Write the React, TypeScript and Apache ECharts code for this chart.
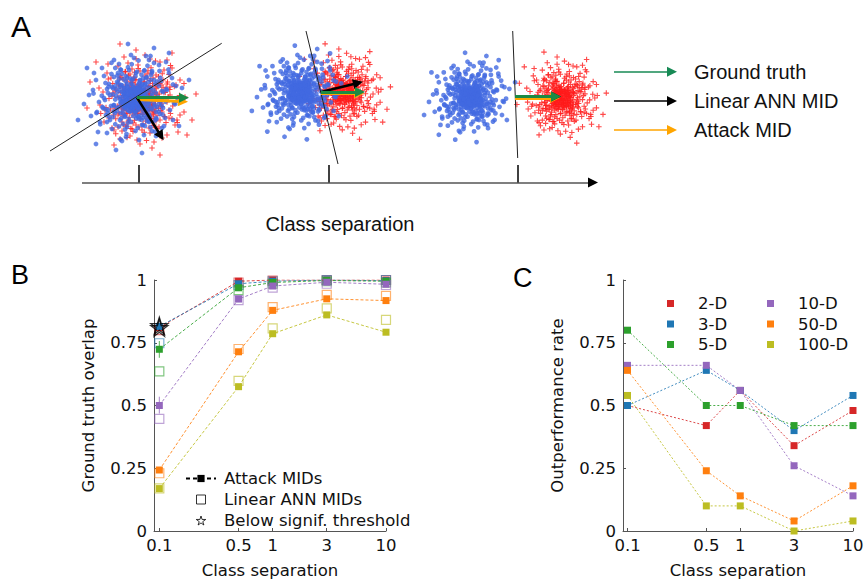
import React, { useEffect, useRef } from 'react';
import * as echarts from 'echarts';

// ---------- Panels B & C data ----------
const separations = [0.1, 0.5, 1, 3, 10];
const sepLabels = ['0.1', '0.5', '1', '3', '10'];
const dims = ['2-D', '3-D', '5-D', '10-D', '50-D', '100-D'];
const dimColors = ['#d62728', '#1f77b4', '#2ca02c', '#9467bd', '#ff7f0e', '#bcbd22'];

// Ground truth overlap, attack MIDs
const attack2D = [0.81, 0.995, 1.0, 1.0, 1.0];
const attack3D = [0.815, 0.985, 0.995, 1.0, 0.997];
const attack5D = [0.724, 0.969, 0.99, 0.998, 0.995];
const attack10D = [0.5, 0.924, 0.976, 0.991, 0.983];
const attack50D = [0.243, 0.714, 0.879, 0.925, 0.918];
const attack100D = [0.169, 0.575, 0.786, 0.861, 0.792];

// Ground truth overlap, linear ANN MIDs
const linear2D = [0.8, 0.99, 0.998, 1.0, 1.0];
const linear3D = [0.748, 0.98, 0.995, 1.0, 1.0];
const linear5D = [0.636, 0.96, 0.985, 0.995, 0.99];
const linear10D = [0.447, 0.92, 0.97, 0.985, 0.98];
const linear50D = [0.23, 0.725, 0.892, 0.941, 0.937];
const linear100D = [0.17, 0.598, 0.807, 0.887, 0.841];

// Below significance threshold (separation, overlap)
const starPoints = [[0.1, 0.81], [0.1, 0.818]];
// Error bars at separation 0.1: [sep, low, high, dimIndex]
const errorBars = [[0.1, 0.69, 0.757, 2], [0.1, 0.468, 0.535, 3]];

// Outperformance rate
const outperf2D = [0.5, 0.42, 0.56, 0.34, 0.48];
const outperf3D = [0.5, 0.64, 0.56, 0.4, 0.54];
const outperf5D = [0.8, 0.5, 0.5, 0.42, 0.42];
const outperf10D = [0.66, 0.66, 0.56, 0.26, 0.14];
const outperf50D = [0.64, 0.24, 0.14, 0.04, 0.18];
const outperf100D = [0.54, 0.1, 0.1, 0.0, 0.04];

const attackAll = [attack2D, attack3D, attack5D, attack10D, attack50D, attack100D];
const linearAll = [linear2D, linear3D, linear5D, linear10D, linear50D, linear100D];
const outperfAll = [outperf2D, outperf3D, outperf5D, outperf10D, outperf50D, outperf100D];

// ---------- Panel A data (illustration units) ----------
const cloudOffsets = [
  [3, -2], [-5, 4], [8, 1], [-2, -9], [11, -6], [-12, 3], [6, 10], [-7, -12], [1, 14], [13, 7],
  [-10, -3], [4, -13], [-14, -8], [9, -10], [-3, 8], [0, 0], [7, -4], [-9, 9], [12, 12], [-6, -1],
  [2, 6], [-11, 12], [14, -1], [5, -7], [-4, -5], [10, 4], [-13, -13], [-1, 11], [8, -14], [-8, 6],
  [3, 3], [-2, -3], [6, -11], [-5, 13], [11, 10], [-14, 1], [1, -6], [-7, 2], [13, -11], [4, 9],
  [-10, -10], [9, 13], [-3, -14], [12, -3], [-6, 7], [2, -1], [-12, -6], [7, 5], [-9, -7], [5, 1],
  [-1, -11], [10, -8], [-4, 10], [0, 7], [14, 5], [-8, -4], [6, -2], [-11, 8], [3, -10], [-5, -8],
  [8, 8], [-13, 5], [1, 3], [12, 1], [-2, 13], [9, -2], [-7, -14], [4, 12], [-10, 1], [11, -13],
  [18, -5], [-20, 7], [22, 14], [-17, -16], [5, 21], [-8, -22], [25, -12], [-24, -3], [16, 19], [-19, 15],
  [2, -25], [27, 3], [-26, 12], [12, -20], [-14, 22], [20, -18], [-22, -11], [8, 27], [-5, -28], [28, -7],
  [-29, 2], [15, 24], [-16, -25], [23, 9], [-21, 19], [17, -23], [-11, 26], [26, 16], [-27, -9], [10, -27],
  [-3, 24], [19, 2], [-18, -2], [21, -14], [-23, 8], [14, 17], [-15, -19], [6, -18], [-9, 18], [24, -1],
  [-25, -14], [13, 23], [-12, -24], [29, 10], [-28, 17], [18, -27], [-7, 29], [22, 20], [-20, -21], [3, 18],
  [-1, -19], [16, -9], [-17, 10], [27, -17], [-24, 22], [11, 28], [-13, -28], [25, 6], [-26, -5], [9, 20],
  [33, -8], [-35, 4], [31, 20], [-30, -22], [10, 37], [-15, -34], [38, -20], [-37, 14], [20, -35], [-22, 31],
  [0, -40], [40, 5], [-41, -8], [28, 30], [-32, -30], [36, 12], [-34, 24], [15, -38], [-8, 39], [42, -12],
  [-43, 18], [25, -33], [-27, 35], [35, -25], [-38, -18], [5, 42], [-3, -43], [30, 28], [-31, 10], [18, 33],
  [-20, -38], [44, 2], [-45, -3], [32, -36], [-36, 34], [12, -42], [-12, 43], [39, 22], [-40, -25], [22, 38],
  [48, -10], [-50, 6], [20, -50], [-18, 52], [45, 28], [-47, -30], [8, 55], [-6, -54], [55, -18], [-56, 22],
  [35, -45], [-38, 46],
];
const blueCenters = [[134, 98], [300, 92], [470, 97]];
const redCenters = [[142, 100], [344, 92], [562, 98]];
const cloudScale = [1.0, 0.86, 0.82];

const decisionLines = [
  [[50, 151], [221.7, 43.3]],
  [[306, 31], [338, 164]],
  [[512.7, 31], [517.7, 158]],
];
const groundTruthArrows = [
  [[137, 97.7], [184, 97.7]],
  [[321, 92], [360, 92]],
  [[515, 96.5], [556, 96.5]],
];
const attackArrows = [
  [[137, 99.5], [183, 101.5]],
  [[321, 93.5], [359, 93.5]],
  [[515, 98], [555, 98]],
];
const linearArrows = [
  [[137, 97.7], [161, 136]],
  [[321, 92], [358, 83]],
  [[515, 96.5], [556, 96.5]],
];
const sepAxisLine = [[82, 182.5], [590, 182.5]];
const sepAxisHead = [[588, 182.5], [593, 182.5]];
const sepAxisTicks = [
  [[139, 165], [139, 182.5]],
  [[328.7, 165], [328.7, 182.5]],
  [[517.7, 165], [517.7, 182.5]],
];
const legendArrowY = [71.7, 101, 130];
const legendArrowX = [614, 672];
const legendLabelsA = ['Ground truth', 'Linear ANN MID', 'Attack MID'];

const GREEN = '#1c8a44';
const ORANGE = '#ffa500';
const PLUS = 'path://M2,0h1v2h2v1h-2v2h-1v-2h-2v-1h2z';
const STAR = 'path://M50,0L61,35L98,35L68,57L79,91L50,70L21,91L32,57L2,35L39,35Z';
const SQUARE = 'path://M0,0H10V10H0Z';
const FONT_B = 'DejaVu Sans';
const FONT_A = 'Liberation Sans';

const sepLog = separations.map((s) => Math.log10(s));
const sepFormatter = (v: number) => {
  let best = 0;
  sepLog.forEach((l, i) => {
    if (Math.abs(l - v) < Math.abs(sepLog[best] - v)) best = i;
  });
  return sepLabels[best];
};

function buildOption() {
  const bluePts: number[][] = [];
  const redPts: number[][] = [];
  blueCenters.forEach((c, i) => {
    const k = cloudScale[i];
    cloudOffsets.forEach(([dx, dy]) => bluePts.push([c[0] + dx * k, c[1] + dy * k]));
    cloudOffsets.forEach(([dx, dy]) => bluePts.push([c[0] + dy * k * 0.75, c[1] + dx * k * 0.75]));
  });
  redCenters.forEach((c, i) => {
    const k = cloudScale[i];
    cloudOffsets.forEach(([dx, dy]) => redPts.push([c[0] - dy * k, c[1] + dx * k]));
    cloudOffsets.forEach(([dx, dy]) => redPts.push([c[0] - dx * k * 0.75, c[1] - dy * k * 0.75]));
  });

  const aLines = (data: number[][][], color: string, width: number, arrow: boolean, size = 9) => ({
    type: 'lines',
    coordinateSystem: 'cartesian2d',
    xAxisIndex: 0,
    yAxisIndex: 0,
    silent: true,
    symbol: arrow ? ['none', 'triangle'] : 'none',
    symbolSize: size,
    lineStyle: { color, width, opacity: 1, curveness: 0 },
    data: data.map((c) => ({ coords: c })),
    z: 5,
  });

  const axisCommon = (grid: number) => ({
    gridIndex: grid,
    type: 'value',
    axisLine: { show: true, onZero: false, lineStyle: { color: '#555', width: 1 } },
    axisTick: { show: true, inside: true, length: 3, lineStyle: { color: '#555' } },
    splitLine: { show: false },
    axisLabel: { fontFamily: FONT_B, fontSize: 16.5, color: '#111' },
    nameTextStyle: { fontFamily: FONT_B, fontSize: 16.5, color: '#111' },
  });

  const xAxisSep = (grid: number, min: number) => {
    const base: any = axisCommon(grid);
    return {
      ...base,
      min,
      max: 1,
      axisTick: { ...base.axisTick, customValues: sepLog },
      axisLabel: { ...base.axisLabel, customValues: sepLog, formatter: sepFormatter, margin: 6 },
      name: 'Class separation',
      nameLocation: 'middle',
      nameGap: 31,
    };
  };
  const yAxisRate = (grid: number, name: string) => {
    const base: any = axisCommon(grid);
    return {
      ...base,
      min: 0,
      max: 1,
      interval: 0.25,
      axisLabel: { ...base.axisLabel, margin: 7 },
      name,
      nameLocation: 'middle',
      nameGap: 57,
    };
  };

  const series: any[] = [
    {
      type: 'scatter', xAxisIndex: 0, yAxisIndex: 0, silent: true,
      symbol: PLUS, symbolSize: 5.5, itemStyle: { color: '#ff1a1a' }, data: redPts, z: 2,
    },
    {
      type: 'scatter', xAxisIndex: 0, yAxisIndex: 0, silent: true,
      symbol: 'circle', symbolSize: 4.8, itemStyle: { color: '#4169e1' }, data: bluePts, z: 3,
    },
    aLines(decisionLines, '#222', 1, false),
    aLines(attackArrows, ORANGE, 3, true, 10),
    aLines(linearArrows, '#000', 2.5, true, 10),
    aLines(groundTruthArrows, GREEN, 3, true, 10),
    aLines([sepAxisLine], '#555', 1.5, false),
    aLines([sepAxisHead], '#000', 1, true, 10),
    aLines(sepAxisTicks, '#000', 1.5, false),
    aLines([[[legendArrowX[0], legendArrowY[0]], [legendArrowX[1], legendArrowY[0]]]], '#178a55', 1.5, true, 10),
    aLines([[[legendArrowX[0], legendArrowY[1]], [legendArrowX[1], legendArrowY[1]]]], '#000', 1.5, true, 10),
    aLines([[[legendArrowX[0], legendArrowY[2]], [legendArrowX[1], legendArrowY[2]]]], ORANGE, 1.5, true, 10),
  ];

  // Panel B
  series.push({
    name: 'Below signif. threshold', type: 'scatter', xAxisIndex: 1, yAxisIndex: 1,
    symbol: STAR, symbolSize: 17,
    itemStyle: { color: 'rgba(255,255,255,0)', borderColor: '#000', borderWidth: 1.3 },
    data: starPoints.map(([s, v]) => [Math.log10(s), v]), z: 4,
  });
  dims.forEach((d, i) => {
    series.push({
      name: 'lin-' + d, type: 'scatter', xAxisIndex: 1, yAxisIndex: 1,
      symbol: 'rect', symbolSize: 9,
      itemStyle: { color: 'rgba(255,255,255,0)', borderColor: dimColors[i], borderWidth: 1.2, opacity: 0.6 },
      data: separations.map((s, j) => [Math.log10(s), linearAll[i][j]]), z: 2,
    });
  });
  series.push({
    type: 'custom', xAxisIndex: 1, yAxisIndex: 1, silent: true, z: 2,
    data: errorBars.map(([s, lo, hi, k]) => [Math.log10(s), lo, hi, k]),
    renderItem: (params: any, api: any) => {
      const a = api.coord([api.value(0), api.value(1)]);
      const b = api.coord([api.value(0), api.value(2)]);
      return {
        type: 'line',
        shape: { x1: a[0], y1: a[1], x2: b[0], y2: b[1] },
        style: { stroke: dimColors[api.value(3)], lineWidth: 1, opacity: 0.8 },
      };
    },
  });
  dims.forEach((d, i) => {
    series.push({
      name: 'att-' + d, type: 'line', xAxisIndex: 1, yAxisIndex: 1,
      symbol: 'rect', symbolSize: 7,
      lineStyle: { color: dimColors[i], width: 1, type: [3, 2], opacity: 0.85 },
      itemStyle: { color: dimColors[i] },
      data: separations.map((s, j) => [Math.log10(s), attackAll[i][j]]), z: 3,
    });
  });
  series.push({
    name: 'Attack MIDs', type: 'line', xAxisIndex: 1, yAxisIndex: 1, data: [],
    symbol: 'rect', symbolSize: 7, lineStyle: { color: '#000', width: 1, type: [4, 3] }, itemStyle: { color: '#000' },
  });
  series.push({
    name: 'Linear ANN MIDs', type: 'scatter', xAxisIndex: 1, yAxisIndex: 1, data: [],
    symbol: SQUARE, symbolSize: 9, itemStyle: { color: '#fff', borderColor: '#000', borderWidth: 1 },
  });

  // Panel C
  dims.forEach((d, i) => {
    series.push({
      name: d, type: 'line', xAxisIndex: 2, yAxisIndex: 2,
      symbol: 'rect', symbolSize: 7,
      lineStyle: { color: dimColors[i], width: 1, type: [2, 2], opacity: 0.85 },
      itemStyle: { color: dimColors[i] },
      data: separations.map((s, j) => [Math.log10(s), outperfAll[i][j]]), z: 3,
    });
  });

  const legendText = { fontFamily: FONT_B, fontSize: 16.5, color: '#111' };

  return {
    animation: false,
    backgroundColor: '#fff',
    grid: [
      { left: 0, top: 0, width: 865, height: 200, outerBoundsMode: 'none' },
      { left: 154, top: 280, width: 232, height: 251, outerBoundsMode: 'none' },
      { left: 623, top: 280, width: 230, height: 251, outerBoundsMode: 'none' },
    ],
    xAxis: [
      { gridIndex: 0, type: 'value', min: 0, max: 865, show: false },
      xAxisSep(1, -1.047),
      xAxisSep(2, -1.04),
    ],
    yAxis: [
      { gridIndex: 0, type: 'value', min: 0, max: 200, inverse: true, show: false },
      yAxisRate(1, 'Ground truth overlap'),
      yAxisRate(2, 'Outperformance rate'),
    ],
    legend: [
      {
        data: [
          { name: 'Attack MIDs' },
          { name: 'Linear ANN MIDs', icon: SQUARE, itemStyle: { color: '#fff', borderColor: '#000', borderWidth: 1 } },
          { name: 'Below signif. threshold', icon: STAR, itemStyle: { color: '#fff', borderColor: '#000', borderWidth: 1 } },
        ],
        symbolKeepAspect: true,
        orient: 'vertical', left: 180, top: 465, itemWidth: 30, itemHeight: 9, itemGap: 4,
        selectedMode: false, textStyle: { ...legendText, padding: [0, 0, 0, 3] },
      },
      {
        data: ['2-D', '3-D', '5-D'], icon: 'rect',
        orient: 'vertical', left: 662, top: 290, itemWidth: 7, itemHeight: 7, itemGap: 3.5,
        selectedMode: false, textStyle: { ...legendText, padding: [0, 0, 0, 19] },
      },
      {
        data: ['10-D', '50-D', '100-D'], icon: 'rect',
        orient: 'vertical', left: 762, top: 290, itemWidth: 7, itemHeight: 7, itemGap: 3.5,
        selectedMode: false, textStyle: { ...legendText, padding: [0, 0, 0, 19] },
      },
    ],
    graphic: [
      { type: 'text', left: 11, top: 11, style: { text: 'A', fontFamily: FONT_A, fontSize: 30, fill: '#000' } },
      { type: 'text', left: 11, top: 261, style: { text: 'B', fontFamily: FONT_A, fontSize: 27, fill: '#000' } },
      { type: 'text', left: 513, top: 264, style: { text: 'C', fontFamily: FONT_A, fontSize: 27, fill: '#000' } },
      {
        type: 'text', x: 340, y: 224,
        style: { text: 'Class separation', fontFamily: FONT_A, fontSize: 20, fill: '#111', align: 'center', verticalAlign: 'middle' },
      },
      ...legendLabelsA.map((t, i) => ({
        type: 'text', x: 694, y: legendArrowY[i],
        style: { text: t, fontFamily: FONT_A, fontSize: 20, fill: '#111', align: 'left', verticalAlign: 'middle' },
      })),
    ],
    series,
  };
}

export default function App() {
  const ref = useRef<HTMLDivElement>(null);
  useEffect(() => {
    const chart = echarts.init(ref.current!, undefined, { renderer: 'svg' });
    chart.setOption(buildOption() as any);
    return () => chart.dispose();
  }, []);
  return (
    <div
      ref={ref}
      style={{ position: 'fixed', left: 0, top: 0, width: 865, height: 581, background: '#fff' }}
    />
  );
}
